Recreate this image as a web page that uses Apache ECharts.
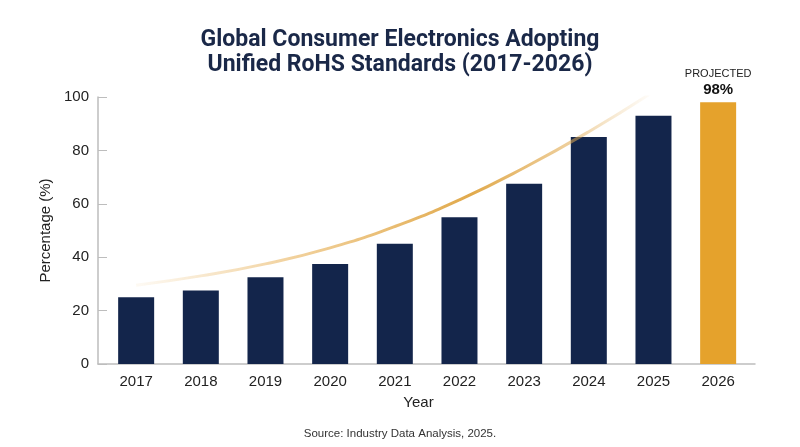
<!DOCTYPE html>
<html>
<head>
  <meta charset="utf-8" />
  <title>RoHS adoption</title>
  <style type="text/css">
    html, body { margin: 0; padding: 0; background: #fff; }
    #main { width: 800px; height: 447px; }
  </style>
</head>
<body>
  <div id="main"></div>
  <script src="https://cdn.jsdelivr.net/npm/echarts@6/dist/echarts.min.js"></script>
  <script>
    var years = [2017, 2018, 2019, 2020, 2021, 2022, 2023, 2024, 2025, 2026];
    var adoption = [25, 27.5, 32.5, 37.5, 45, 55, 67.5, 85, 93, 98];
    // trend curve, runs past the top and gets clipped
    var trendYears = [2017, 2018, 2019, 2020, 2021, 2022, 2023, 2024, 2025];
    var trend = [29.5, 33, 37.5, 43.5, 51.5, 61.5, 73.5, 87, 102];
    var yTicks = [0, 20, 40, 60, 80, 100];

    var navy = '#13254b';
    var gold = '#e5a22c';
    var titleFont = 'Roboto, "Liberation Sans", sans-serif';
    var font = '"Liberation Sans", Arial, sans-serif';

    var myChart = echarts.init(document.getElementById('main'));

    var barData = years.map(function (y, i) {
      var item = { value: [y, adoption[i]] };
      if (i === years.length - 1) {
        item.itemStyle = { color: gold };
        item.label = {
          show: true,
          position: 'top',
          distance: 4,
          formatter: '{a|PROJECTED}\n{b|' + adoption[i] + '%}',
          rich: {
            a: { fontSize: 11, color: '#222', fontFamily: font, lineHeight: 15 },
            b: { fontSize: 15, fontWeight: 'bold', color: '#111', fontFamily: font, lineHeight: 17 }
          }
        };
      }
      return item;
    });

    var option = {
      animation: false,
      title: [{
        text: 'Global Consumer Electronics Adopting\nUnified RoHS Standards (2017-2026)',
        left: 'center',
        top: 23,
        textStyle: {
          fontFamily: titleFont,
          fontSize: 23,
          fontWeight: 'bold',
          color: '#1a2848',
          lineHeight: 25
        }
      }, {
        text: 'Source: Industry Data Analysis, 2025.',
        left: 'center',
        top: 423,
        textStyle: { fontFamily: font, fontSize: 11.5, fontWeight: 'normal', color: '#333' }
      }],
      grid: { left: 98, right: 45, top: 97, bottom: 83 },
      xAxis: {
        type: 'value',
        min: 2016.41,
        max: 2026.57,
        name: 'Year',
        nameLocation: 'middle',
        nameGap: 31,
        nameTextStyle: { fontFamily: font, fontSize: 15, color: '#222', padding: [0, 16, 0, 0] },
        splitLine: { show: false },
        axisTick: { show: false },
        axisLine: { show: true, lineStyle: { color: '#bdbdbd', width: 1.5 } },
        axisLabel: {
          customValues: years,
          margin: 10,
          fontFamily: font,
          fontSize: 15,
          color: '#222',
          formatter: function (v) { return String(v); }
        }
      },
      yAxis: {
        type: 'value',
        min: 0,
        max: 100,
        interval: 20,
        name: 'Percentage (%)',
        nameLocation: 'middle',
        nameGap: 42,
        nameTextStyle: { fontFamily: font, fontSize: 15, color: '#222' },
        splitLine: { show: false },
        axisLine: { show: true, lineStyle: { color: '#bdbdbd', width: 1.5 } },
        axisTick: { show: true, inside: true, length: 9, lineStyle: { color: '#bdbdbd' } },
        axisLabel: {
          customValues: yTicks,
          margin: 9,
          fontFamily: font,
          fontSize: 15,
          color: '#222'
        }
      },
      series: [{
        type: 'bar',
        barWidth: 36,
        itemStyle: { color: navy },
        data: barData,
        z: 2
      }, {
        type: 'line',
        smooth: true,
        symbol: 'none',
        clip: true,
        data: trendYears.map(function (y, i) { return [y, trend[i]]; }),
        lineStyle: {
          width: 3,
          color: {
            type: 'linear',
            global: true,
            x: 140, y: 0, x2: 650, y2: 0,
            colorStops: [
              { offset: 0, color: 'rgba(232,178,90,0.08)' },
              { offset: 0.3, color: 'rgba(232,178,90,0.6)' },
              { offset: 0.65, color: 'rgba(222,162,60,0.92)' },
              { offset: 0.85, color: 'rgba(225,170,80,0.55)' },
              { offset: 1, color: 'rgba(232,190,120,0.05)' }
            ]
          }
        },
        z: 3
      }]
    };
    myChart.setOption(option);
  </script>
</body>
</html>
